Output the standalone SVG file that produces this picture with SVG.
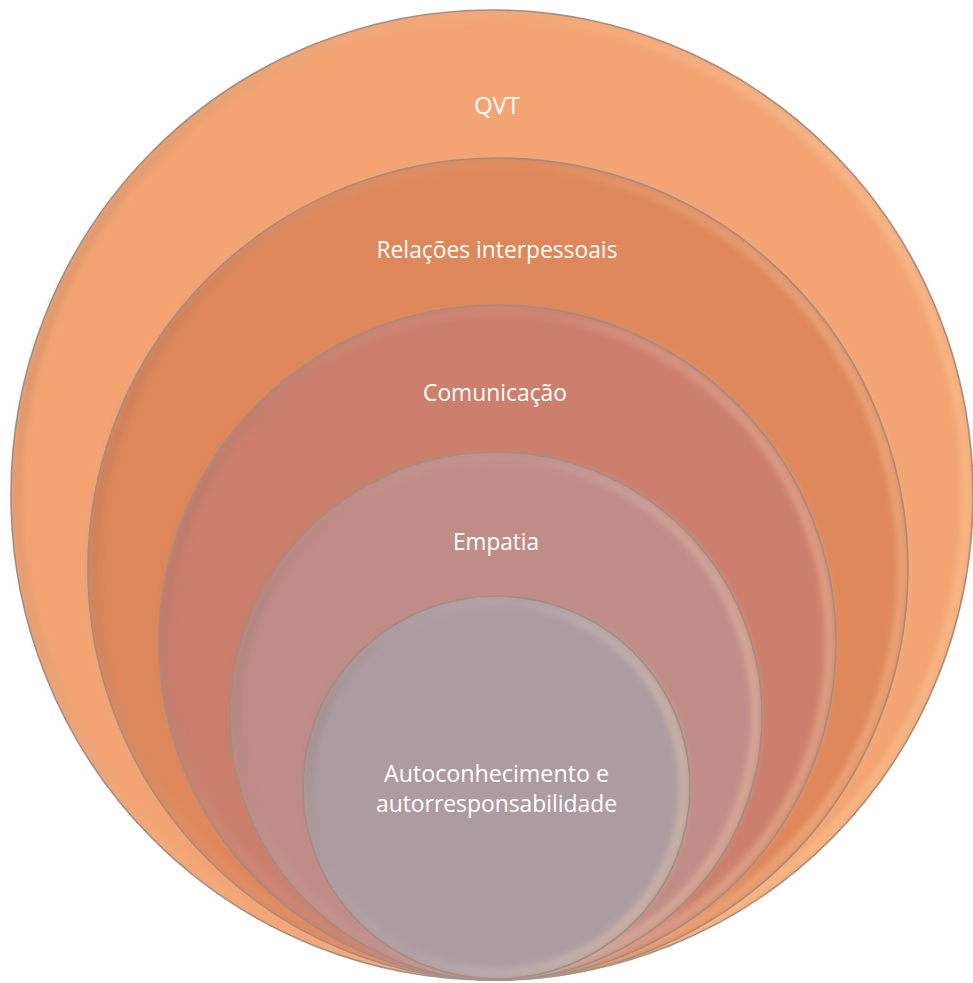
<svg xmlns="http://www.w3.org/2000/svg" width="973" height="983" viewBox="0 0 973 983">
<defs>
<style>
.lbl{font-family:"Open Sans","Noto Sans","Liberation Sans",sans-serif;font-size:23px;fill:#ffffff;text-anchor:middle}
.edge{fill:none;stroke:#a38d82;stroke-width:1.6}
.rim{fill:none;stroke-width:10;filter:url(#soft)}
</style>
<filter id="soft" x="-5%" y="-5%" width="110%" height="110%"><feGaussianBlur stdDeviation="3"/></filter>
<linearGradient id="rimG" x1="0" y1="0" x2="1" y2="0.3">
<stop offset="0" stop-color="#6a3a2a" stop-opacity="0.25"/>
<stop offset="0.5" stop-color="#ffffff" stop-opacity="0.04"/>
<stop offset="1" stop-color="#ffd6a8" stop-opacity="0.35"/>
</linearGradient>
</defs>
<g id="n1">
<ellipse cx="492" cy="495" rx="481" ry="485" fill="#f3a472"/>
<ellipse cx="492" cy="495" rx="475" ry="479" class="rim" stroke="url(#rimG)"/>
<ellipse cx="492" cy="495" rx="481" ry="485" class="edge"/>
<text class="lbl" x="497" y="114" textLength="46" lengthAdjust="spacingAndGlyphs">QVT</text>
</g>
<g id="n2">
<ellipse cx="498" cy="569" rx="410" ry="411" fill="#de875a"/>
<ellipse cx="498" cy="569" rx="404" ry="405" class="rim" stroke="url(#rimG)"/>
<ellipse cx="498" cy="569" rx="410" ry="411" class="edge"/>
<text class="lbl" x="497" y="258" textLength="241" lengthAdjust="spacingAndGlyphs">Relações interpessoais</text>
</g>
<g id="n3">
<ellipse cx="497.5" cy="642.5" rx="338.5" ry="337.5" fill="#cb7f6c"/>
<ellipse cx="497.5" cy="642.5" rx="332.5" ry="331.5" class="rim" stroke="url(#rimG)"/>
<ellipse cx="497.5" cy="642.5" rx="338.5" ry="337.5" class="edge"/>
<text class="lbl" x="495" y="401" textLength="144" lengthAdjust="spacingAndGlyphs">Comunicação</text>
</g>
<g id="n4">
<ellipse cx="496" cy="716" rx="266" ry="264" fill="#bf8c88"/>
<ellipse cx="496" cy="716" rx="260" ry="258" class="rim" stroke="url(#rimG)"/>
<ellipse cx="496" cy="716" rx="266" ry="264" class="edge"/>
<text class="lbl" x="496" y="550" textLength="86" lengthAdjust="spacingAndGlyphs">Empatia</text>
</g>
<g id="n5">
<ellipse cx="496.5" cy="787.5" rx="193.5" ry="191.5" fill="#ac9ca1"/>
<ellipse cx="496.5" cy="787.5" rx="187.5" ry="185.5" class="rim" stroke="url(#rimG)"/>
<ellipse cx="496.5" cy="787.5" rx="193.5" ry="191.5" class="edge"/>
<text class="lbl" x="496.5" y="782" textLength="225" lengthAdjust="spacingAndGlyphs">Autoconhecimento e</text>
<text class="lbl" x="496.5" y="812" textLength="241" lengthAdjust="spacingAndGlyphs">autorresponsabilidade</text>
</g>
<g id="connectors"/>
</svg>
